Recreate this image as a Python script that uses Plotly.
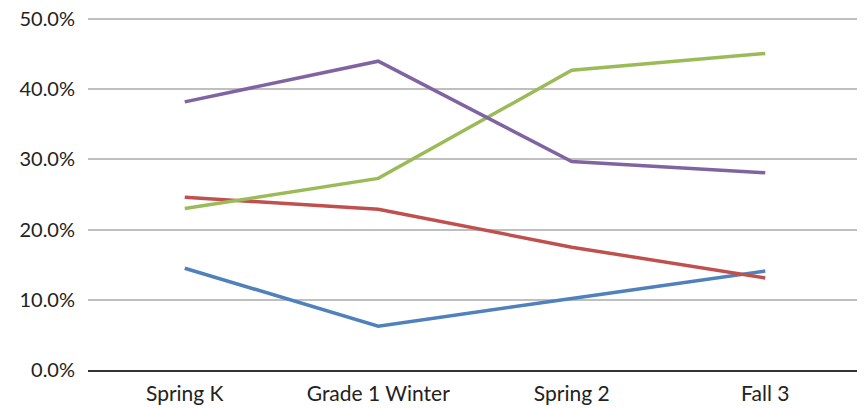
import plotly.graph_objects as go

categories = ["Spring K", "Grade 1 Winter", "Spring 2", "Fall 3"]
blue_vals = [0.145, 0.0625, 0.102, 0.141]
red_vals = [0.246, 0.229, 0.175, 0.131]
green_vals = [0.230, 0.273, 0.427, 0.451]
purple_vals = [0.382, 0.440, 0.297, 0.281]
tick_vals = [0, 0.1, 0.2, 0.3, 0.4, 0.5]
tick_text = ["0.0%", "10.0%", "20.0%", "30.0%", "40.0%", "50.0%"]

series = [
    ("Blue", blue_vals, "#4F81BD"),
    ("Red", red_vals, "#C0504D"),
    ("Green", green_vals, "#9BBB59"),
    ("Purple", purple_vals, "#8064A2"),
]

fig = go.Figure()
for name, vals, color in series:
    fig.add_trace(go.Scatter(x=categories, y=vals, mode="lines", name=name,
                             line=dict(color=color, width=3.5)))

fig.update_layout(
    width=865, height=408,
    margin=dict(l=80, r=11, t=10, b=46),
    paper_bgcolor="white", plot_bgcolor="white",
    showlegend=False,
    font=dict(family="Lato, Carlito, Open Sans, sans-serif", size=21, color="#222222"),
)
fig.update_xaxes(
    type="category", range=[-0.5, 3.5], automargin=False,
    showgrid=False, showline=True, linecolor="#333333", linewidth=2,
    ticks="", tickfont=dict(size=21), ticklabelstandoff=4,
)
fig.update_yaxes(
    range=[0, 0.5015], tickvals=tick_vals, ticktext=tick_text, automargin=False,
    showgrid=True, gridcolor="#BFBFBF", gridwidth=1.5,
    zeroline=False, showline=False, ticks="", ticklabelstandoff=12,
    ticklabeloverflow="allow", tickfont=dict(size=20),
)

fig.write_html("out.html")
